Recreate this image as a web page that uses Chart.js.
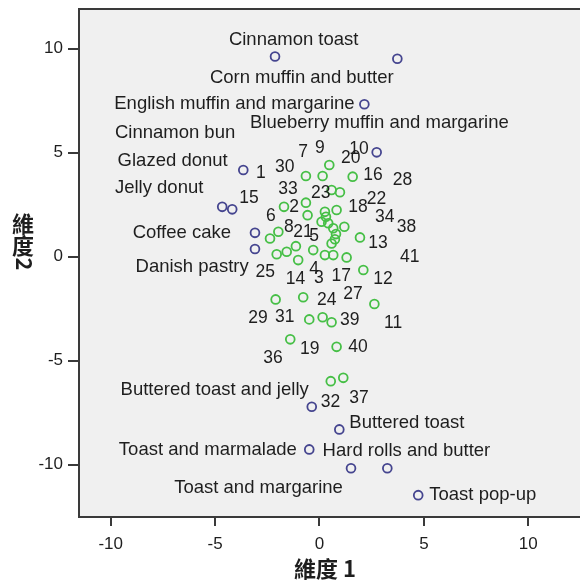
<!DOCTYPE html>
<html>
<head>
<meta charset="utf-8">
<script src="https://cdn.jsdelivr.net/npm/chart.js@4"></script>
<style>
html,body{margin:0;padding:0;background:#fff;}
canvas{display:block;}
</style>
</head>
<body>
<canvas id="c" width="580" height="581"></canvas>
<script>
// ---- data ----
const foods = ['Cinnamon toast','Corn muffin and butter','English muffin and margarine','Blueberry muffin and margarine','Cinnamon bun','Jelly donut','Glazed donut','Coffee cake','Danish pastry','Buttered toast and jelly','Buttered toast','Toast and marmalade','Toast and margarine','Hard rolls and butter','Toast pop-up'];
const foodX = [-2.13, 3.73, 2.15, 2.74, -3.65, -4.66, -4.18, -3.09, -3.09, -0.37, 0.95, -0.49, 1.51, 3.25, 4.73];
const foodY = [9.63, 9.52, 7.33, 5.02, 4.17, 2.40, 2.28, 1.15, 0.37, -7.21, -8.30, -9.26, -10.17, -10.17, -11.46];

const subjectX = [0.47,-0.65,0.15,1.59,0.58,0.98,-0.65,-1.70,-0.57,0.26,0.82,0.31,0.10,0.42,0.66,0.79,0.74,0.58,1.19,1.94,-1.97,-2.37,-1.13,-2.05,-1.57,-1.02,-0.30,0.26,0.66,1.30,2.10,-2.10,-0.78,-0.49,0.15,0.58,2.63,-1.40,0.82,0.54,1.14];
const subjectY = [4.41,3.88,3.88,3.85,3.21,3.10,2.60,2.40,2.00,2.16,2.25,1.92,1.68,1.61,1.37,1.09,0.84,0.64,1.44,0.93,1.20,0.88,0.51,0.12,0.24,-0.16,0.32,0.08,0.08,-0.03,-0.64,-2.05,-1.95,-3.01,-2.91,-3.15,-2.27,-3.97,-4.33,-5.98,-5.82];

const xTicks = [-10, -5, 0, 5, 10];
const yTicks = [-10, -5, 0, 5, 10];
const xTitle = '維度 1';
const yTitle = '維度 2';

// ---- label layout (text anchor in data units, left/baseline) ----
const foodLabelPos = {
  'Cinnamon toast':[-4.34,10.18], 'Corn muffin and butter':[-5.25,8.34],
  'English muffin and margarine':[-9.83,7.09], 'Cinnamon bun':[-9.80,5.72],
  'Blueberry muffin and margarine':[-3.33,6.17], 'Glazed donut':[-9.67,4.38],
  'Jelly donut':[-9.80,3.05], 'Coffee cake':[-8.95,0.88], 'Danish pastry':[-8.81,-0.75],
  'Buttered toast and jelly':[-9.53,-6.65], 'Buttered toast':[1.43,-8.25],
  'Toast and marmalade':[-9.61,-9.53], 'Hard rolls and butter':[0.15,-9.58],
  'Toast and margarine':[-6.96,-11.38], 'Toast pop-up':[5.26,-11.70]
};
const subjectLabelPos = {
  '1':[-3.04,3.77],'30':[-2.13,4.09],'7':[-1.02,4.78],'9':[-0.22,4.97],'10':[1.43,4.94],
  '20':[1.03,4.49],'16':[2.10,3.69],'28':[3.51,3.46],'33':[-1.97,3.01],'23':[-0.41,2.81],
  '15':[-3.84,2.57],'2':[-1.45,2.16],'22':[2.26,2.53],'18':[1.38,2.13],'6':[-2.56,1.73],
  '34':[2.66,1.68],'38':[3.70,1.20],'8':[-1.70,1.20],'21':[-1.26,0.96],'5':[-0.49,0.75],
  '13':[2.34,0.40],'41':[3.86,-0.24],'25':[-3.06,-0.96],'4':[-0.49,-0.83],'14':[-1.62,-1.31],
  '3':[-0.26,-1.28],'17':[0.58,-1.15],'12':[2.58,-1.31],'27':[1.14,-2.03],'24':[-0.12,-2.32],
  '29':[-3.41,-3.20],'31':[-2.13,-3.13],'39':[0.98,-3.28],'11':[3.09,-3.44],'19':[-0.93,-4.68],
  '40':[1.38,-4.57],'36':[-2.69,-5.13],'32':[0.06,-7.21],'37':[1.43,-7.02]
};

const BLUE = '#45458f';
const GREEN = '#46bf46';
const TEXT = '#1e1e1e';
const AXIS = '#3a3a3a';

const plotBg = {
  id: 'plotBg',
  beforeDraw(chart) {
    const {ctx, chartArea: a} = chart;
    ctx.save();
    ctx.fillStyle = '#f0f0f0';
    ctx.fillRect(a.left, a.top, a.right - a.left + 10, a.bottom - a.top);
    ctx.restore();
  },
  afterDraw(chart) {
    const {ctx, chartArea: a, scales} = chart;
    ctx.save();
    ctx.strokeStyle = AXIS;
    ctx.lineWidth = 2;
    ctx.strokeRect(a.left, a.top, a.right - a.left + 10, a.bottom - a.top);
    // point labels
    ctx.fillStyle = TEXT;
    ctx.textAlign = 'left';
    ctx.textBaseline = 'alphabetic';
    ctx.font = '18.5px "Liberation Sans", Arial, sans-serif';
    foods.forEach(f => {
      const p = foodLabelPos[f];
      if (!p) return;
      ctx.fillText(f, scales.x.getPixelForValue(p[0]), scales.y.getPixelForValue(p[1]));
    });
    ctx.font = '17.5px "Liberation Sans", Arial, sans-serif';
    Object.keys(subjectLabelPos).forEach(k => {
      const p = subjectLabelPos[k];
      ctx.fillText(k, scales.x.getPixelForValue(p[0]), scales.y.getPixelForValue(p[1]));
    });
    // axis titles
    ctx.font = 'bold 22px "Noto Sans CJK TC", "Liberation Sans", sans-serif';
    ctx.textAlign = 'center';
    ctx.textBaseline = 'alphabetic';
    ctx.fillText(xTitle, (a.left + 571) / 2, 577);
    // vertical y title: CJK upright, latin rotated
    ctx.textBaseline = 'middle';
    let y = 224;
    [...yTitle].forEach(ch => {
      if (ch === ' ') return;
      if (/[\u3000-\u9fff]/.test(ch)) {
        ctx.fillText(ch, 23, y);
        y += 22;
      } else {
        ctx.save();
        ctx.translate(24, y - 4);
        ctx.rotate(Math.PI / 2);
        ctx.fillText(ch, 0, 0);
        ctx.restore();
        y += 12;
      }
    });
    ctx.restore();
  }
};

const tickFont = {family: '"Liberation Sans", Arial, sans-serif', size: 17};

new Chart(document.getElementById('c'), {
  type: 'scatter',
  data: {
    datasets: [
      {
        label: 'foods',
        data: foodX.map((x, i) => ({x, y: foodY[i]})),
        pointStyle: 'circle', pointRadius: 4.4, pointBorderWidth: 1.8,
        borderColor: BLUE, backgroundColor: 'rgba(0,0,0,0)'
      },
      {
        label: 'subjects',
        data: subjectX.map((x, i) => ({x, y: subjectY[i]})),
        pointStyle: 'circle', pointRadius: 4.4, pointBorderWidth: 1.8,
        borderColor: GREEN, backgroundColor: 'rgba(0,0,0,0)'
      }
    ]
  },
  options: {
    responsive: false,
    animation: false,
    devicePixelRatio: 1,
    layout: {autoPadding: false, padding: {top: 9, right: 0, left: 0, bottom: 0}},
    plugins: {legend: {display: false}, tooltip: {enabled: false}},
    scales: {
      x: {
        type: 'linear', min: -11.52, max: 12.48,
        afterBuildTicks: s => { s.ticks = xTicks.map(v => ({value: v})); },
        afterFit: s => { s.height = 64; s.paddingLeft = 0; s.paddingRight = 0; },
        border: {display: false},
        grid: {drawOnChartArea: false, drawTicks: true, tickLength: 9, color: AXIS, lineWidth: 2},
        ticks: {font: tickFont, color: TEXT, padding: 8, maxRotation: 0}
      },
      y: {
        type: 'linear', min: -12.51, max: 11.91,
        afterBuildTicks: s => { s.ticks = yTicks.map(v => ({value: v})); },
        afterFit: s => { s.width = 79; s.paddingTop = 0; s.paddingBottom = 0; },
        border: {display: false},
        grid: {drawOnChartArea: false, drawTicks: true, tickLength: 11, color: AXIS, lineWidth: 2},
        ticks: {font: tickFont, color: TEXT, padding: 5}
      }
    }
  },
  plugins: [plotBg]
});
</script>
</body>
</html>
